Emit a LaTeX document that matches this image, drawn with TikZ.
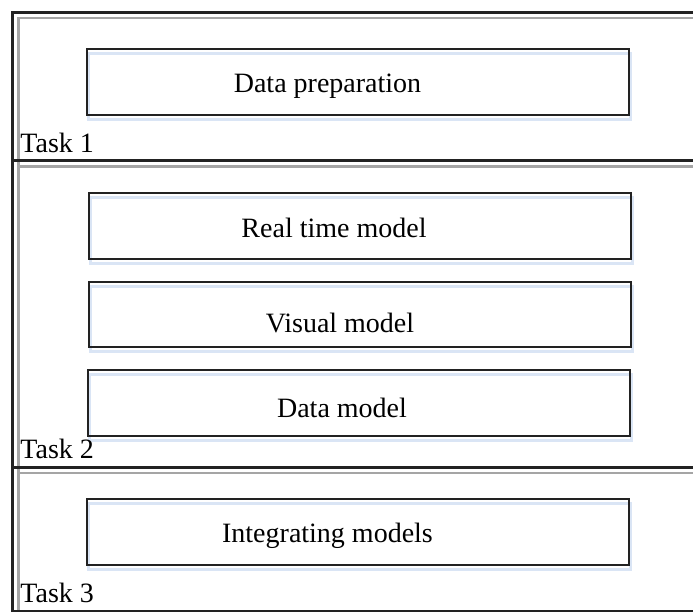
\documentclass[tikz,border=0pt]{standalone}
\usepackage{fontspec}
\setmainfont{Liberation Serif}
\usetikzlibrary{calc,backgrounds}
\definecolor{shadeblue}{RGB}{218,229,245}
\definecolor{frameink}{RGB}{34,34,34}
\definecolor{framegray}{RGB}{165,165,165}
\begin{document}
\begin{tikzpicture}[x=0.5pt,y=-0.5pt,
  lanefront/.style={draw=frameink, line width=1.5pt},
  laneback/.style={draw=framegray, line width=1.1pt},
  taskbox/.style={draw=frameink, line width=1.15pt, rectangle, inner sep=0pt, outer sep=0pt,
                  minimum width=271pt, minimum height=33pt},
  boxshade/.style={draw=shadeblue, line width=1.5pt},
  boxtext/.style={font=\fontsize{14}{16}\selectfont, anchor=base, inner sep=0pt},
  tasklabel/.style={font=\fontsize{14}{16}\selectfont, anchor=base west, inner sep=0pt}]
\useasboundingbox (0,0) rectangle (693,612);
\clip (0,0) rectangle (693,612);

% swimlanes: gray inner frame, black outer frame
\foreach \top/\bot in {12/160.5, 160.5/467, 467/611}{
  \draw[laneback] (18.5,\top+6) rectangle (720,\bot+6);
}
\foreach \top/\bot in {12/160.5, 160.5/467, 467/611}{
  \draw[lanefront] (12.5,\top) rectangle (720,\bot);
}

% task boxes
\node[taskbox] (prep)  at (358,82)    {};
\node[taskbox] (rtm)   at (360,226)   {};
\node[taskbox, minimum height=32.5pt] (vis) at (360,314.5) {};
\node[taskbox] (dmod)  at (359,403)   {};
\node[taskbox] (integ) at (358,532)   {};

% soft blue offset outlines behind the boxes
\begin{scope}[on background layer]
  \foreach \b in {prep,rtm,vis,dmod,integ}{
    \draw[boxshade] ($(\b.south west)+(2,4.5)$) rectangle ($(\b.north east)+(2,4.5)$);
  }
\end{scope}

% box captions
\node[boxtext] (prepT)  at (327.5,92)  {Data preparation};
\node[boxtext] (rtmT)   at (334,237)   {Real time model};
\node[boxtext] (visT)   at (340,332)   {Visual model};
\node[boxtext] (dmodT)  at (342,417)   {Data model};
\node[boxtext] (integT) at (327.5,542) {Integrating models};

% lane labels
\node[tasklabel] (task1) at (20,152) {Task 1};
\node[tasklabel] (task2) at (20,458) {Task 2};
\node[tasklabel] (task3) at (20,602) {Task 3};
\end{tikzpicture}
\end{document}
